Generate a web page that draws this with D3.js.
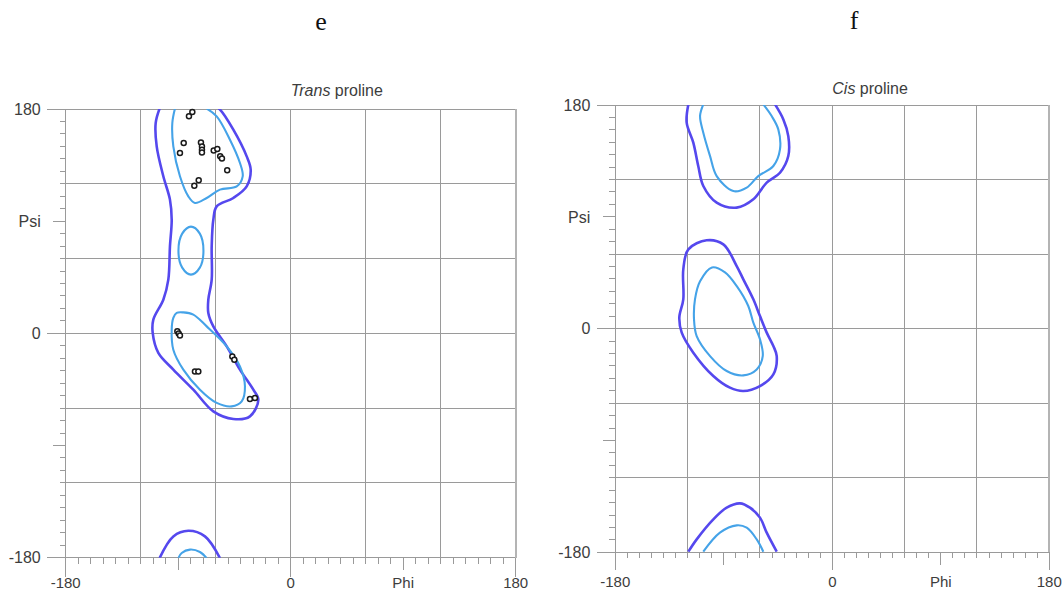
<!DOCTYPE html>
<html>
<head>
<meta charset="utf-8">
<script src="https://cdn.jsdelivr.net/npm/d3@7"></script>
<style>
  body { margin: 0; background: #fff; }
  svg { display: block; }
</style>
</head>
<body>
<div id="chart"></div>
<script>
// axis labels shared by both panels
var tickValues = [-180, 0, 180];
var tickLabels = ["-180", "0", "180"];
var nameValue = 90;

// Trans proline contours, [phi, psi]
var transOuterTop = [[-104.9,180.3],[-108,168.8],[-107.2,150],[-101.9,126],[-96.6,107.3],[-95.2,91.2],[-96.6,69.8],[-97.9,43.1],[-101.9,27],[-109.9,11],[-110.4,0.3],[-105.9,-15.7],[-93.9,-29.1],[-77.9,-45.2],[-61.9,-62.6],[-45.9,-68.7],[-32.6,-66.6],[-25.9,-53.2],[-29.9,-45.2],[-40.6,-29.1],[-51.2,-10.4],[-61.9,5.6],[-65.9,16.4],[-65.9,27],[-63.2,43.1],[-63.2,69.8],[-61.9,91.2],[-59.2,101.9],[-45.9,108.6],[-35.2,117.9],[-32,131.3],[-35.2,142],[-45.9,163.4],[-56.6,179.5],[-57.9,180.3]];
var transInnerTop = [[-92.6,180.3],[-94.7,168.8],[-93.9,150],[-88.6,126],[-81.9,109.9],[-76.6,104.6],[-67.2,108.6],[-56.6,115.3],[-43.2,117.9],[-38.4,126],[-40.6,136.7],[-48.6,155.4],[-59.2,174.1],[-67.2,180.3]];
var transInnerLoop = [[-79.8,85.6],[-72.7,80],[-69.8,66.3],[-72.7,52.7],[-79.8,47.1],[-86.8,52.7],[-89.8,66.3],[-86.8,80]];
var transInnerMid = [[-91.2,16.4],[-85.9,16.8],[-77.9,15],[-67.2,5.6],[-51.2,-10.4],[-40.6,-26.5],[-36.6,-42.5],[-39.2,-54.6],[-47.2,-58.6],[-59.2,-55.8],[-72.6,-45.2],[-85.9,-29.1],[-93.9,-13.1],[-95.2,3],[-93.9,12.4]];
var transOuterBottom = [[-104.9,-180.3],[-93.9,-162.9],[-81.9,-158.4],[-68.6,-162.9],[-56.6,-180.3]];
var transInnerBottom = [[-89.9,-180.3],[-87.2,-176.2],[-80.6,-173.5],[-72.6,-175.4],[-67.2,-180.3]];
var transResidues = [[-81.4,174.1],[-78.7,177.6],[-85.6,152.8],[-88.6,144.7],[-71.8,153.2],[-71,150],[-71,147.4],[-71,145],[-61.6,146.8],[-58.7,147.9],[-56.4,142],[-55,140.2],[-50.8,130.8],[-77.1,118.5],[-73.6,122.9],
  [-90.7,1.6],[-89.6,-0.2],[-88.6,-1.8],[-76.6,-30.7],[-73.9,-30.7],[-46.7,-18.5],[-45.1,-21.1],[-32.6,-52.6],[-28.6,-51.8]];

// Cis proline contours
var cisOuterTop = [[-119.4,180.5],[-120.8,165.8],[-115.3,149.7],[-111.2,130.9],[-107,114.8],[-95.9,101.4],[-79.3,97.4],[-65.5,104.1],[-54.4,117.5],[-43.4,125.5],[-36.5,138.9],[-36.5,155],[-40.6,168.4],[-47.5,180.5]];
var cisInnerTop = [[-107,180.5],[-109.7,171.1],[-107,157.7],[-101.4,138.9],[-95.9,122.8],[-82.1,110.7],[-71,113.5],[-61.4,122.8],[-48.9,130.9],[-43.4,144.3],[-44.8,160.4],[-50.3,171.1],[-57.2,180.5]];
var cisOuterMid = [[-119.4,63.8],[-104.2,71.1],[-90.4,67.8],[-79.3,50.4],[-73.8,39.7],[-65.5,23.6],[-60,10.1],[-54.4,-3.2],[-48.9,-14],[-46.1,-22.1],[-48.9,-36.8],[-60,-46.2],[-73.8,-50.2],[-84.9,-47.5],[-98.7,-38.1],[-115.3,-19.3],[-124.9,-3.2],[-126.9,8.9],[-123.6,23.6],[-123.6,47.7]];
var cisInnerMid = [[-99.8,49.3],[-89,45.3],[-79.1,34],[-69.7,18.2],[-65.5,4.8],[-60,-8.6],[-57.7,-22.1],[-62.7,-32.8],[-73.8,-37.6],[-87.6,-34.1],[-101.4,-22.1],[-112.5,-6],[-114.7,7.5],[-113.9,23.6],[-109.7,38.1]];
var cisOuterBottom = [[-119.4,-179.5],[-112.5,-169.6],[-98.7,-153.5],[-87.6,-144.1],[-76.6,-140.6],[-68.3,-144.1],[-60,-152.1],[-54.4,-164.2],[-46.1,-179.5]];
var cisInnerBottom = [[-107,-179.5],[-93.2,-164.2],[-79.3,-158.3],[-71,-160.2],[-62.7,-169.6],[-57.2,-179.5]];

var outerColour = "#5548ee";
var innerColour = "#45a3e8";
var gridColour = "#9a9a9a";
var textColour = "#3d3d3d";

var svg = d3.select("#chart")
    .append("svg")
    .attr("width", 1064)
    .attr("height", 592);

svg.append("text").attr("x", 321).attr("y", 30)
    .attr("text-anchor", "middle")
    .style("font-family", "'Liberation Serif', 'DejaVu Serif', serif")
    .style("font-size", "26px").attr("fill", "#111").text("e");
svg.append("text").attr("x", 854).attr("y", 29)
    .attr("text-anchor", "middle")
    .style("font-family", "'Liberation Serif', 'DejaVu Serif', serif")
    .style("font-size", "26px").attr("fill", "#111").text("f");

function drawPanel(cfg) {
    var x = d3.scaleLinear().domain([-180, 180]).range([cfg.left, cfg.right]);
    var y = d3.scaleLinear().domain([-180, 180]).range([cfg.bottom, cfg.top]);
    var g = svg.append("g").attr("class", cfg.id);
    var steps = d3.range(-180, 181, 10);

    // tick length by kind of degree value
    function tickLen(v) {
        if (v == 0 || Math.abs(v) == 180) return cfg.majorLen;
        if (Math.abs(v) == 90) return cfg.midLen;
        return cfg.minorLen;
    }

    // grid
    var grid = g.append("g").attr("stroke", gridColour).attr("stroke-width", 1).attr("shape-rendering", "crispEdges");
    grid.selectAll("line.v")
        .data(steps.filter(v => v % 60 == 0 && Math.abs(v) != 180))
        .enter().append("line")
        .attr("x1", d => x(d)).attr("x2", d => x(d))
        .attr("y1", y(180)).attr("y2", y(-180));
    grid.selectAll("line.h")
        .data(steps.filter(v => v % 60 == 0))
        .enter().append("line")
        .attr("x1", x(-180)).attr("x2", x(180))
        .attr("y1", d => y(d)).attr("y2", d => y(d));
    grid.append("line")
        .attr("x1", x(-180)).attr("x2", x(-180))
        .attr("y1", y(180)).attr("y2", y(-180));
    grid.append("line")
        .attr("x1", x(180)).attr("x2", x(180))
        .attr("y1", y(180)).attr("y2", y(-180))
        .attr("stroke", "#b4b4b4").attr("stroke-width", 2);

    // ticks
    grid.selectAll("line.ty")
        .data(steps)
        .enter().append("line")
        .attr("x1", d => x(-180) - tickLen(d)).attr("x2", x(-180))
        .attr("y1", d => y(d)).attr("y2", d => y(d));
    grid.selectAll("line.tx")
        .data(steps)
        .enter().append("line")
        .attr("x1", d => x(d)).attr("x2", d => x(d))
        .attr("y1", y(-180)).attr("y2", d => y(-180) + tickLen(d));

    // labels
    var font = "'Liberation Sans', Arial, sans-serif";
    g.selectAll("text.yl")
        .data(tickValues)
        .enter().append("text")
        .attr("x", x(-180) - cfg.yLabelGap)
        .attr("y", d => y(d))
        .attr("dy", "0.36em")
        .attr("text-anchor", "end")
        .style("font-family", font).style("font-size", "16px")
        .attr("fill", textColour)
        .text((d, i) => tickLabels[i]);
    g.append("text")
        .attr("x", x(-180) - cfg.yLabelGap).attr("y", y(nameValue)).attr("dy", "0.36em")
        .attr("text-anchor", "end")
        .style("font-family", font).style("font-size", "16px")
        .attr("fill", textColour).text("Psi");
    g.selectAll("text.xl")
        .data(tickValues)
        .enter().append("text")
        .attr("x", d => x(d))
        .attr("y", y(-180) + cfg.xLabelGap)
        .attr("text-anchor", "middle")
        .style("font-family", font).style("font-size", "15px")
        .attr("fill", textColour)
        .text((d, i) => tickLabels[i]);
    g.append("text")
        .attr("x", x(nameValue)).attr("y", y(-180) + cfg.xLabelGap)
        .attr("text-anchor", "middle")
        .style("font-family", font).style("font-size", "15px")
        .attr("fill", textColour).text("Phi");

    var title = g.append("text")
        .attr("x", x(0)).attr("y", cfg.titleY)
        .style("font-family", font).style("font-size", "16px")
        .attr("fill", textColour);
    title.append("tspan").style("font-style", "italic").text(cfg.titleItalic);
    title.append("tspan").text(" proline");

    // contours
    g.append("clipPath").attr("id", "clip-" + cfg.id)
        .append("rect")
        .attr("x", x(-180)).attr("y", y(180))
        .attr("width", x(180) - x(-180)).attr("height", y(-180) - y(180));
    var plot = g.append("g").attr("clip-path", "url(#clip-" + cfg.id + ")");
    var openLine = d3.line().x(d => x(d[0])).y(d => y(d[1])).curve(d3.curveCatmullRom.alpha(0.5));
    var closedLine = d3.line().x(d => x(d[0])).y(d => y(d[1])).curve(d3.curveCatmullRomClosed.alpha(0.5));

    cfg.contours.forEach(function (c) {
        plot.append("path")
            .datum(c.points)
            .attr("d", c.closed ? closedLine : openLine)
            .attr("fill", "none")
            .attr("stroke", c.outer ? outerColour : innerColour)
            .attr("stroke-width", c.outer ? 2.6 : 2.1)
            .attr("stroke-linejoin", "round");
    });

    g.append("g").selectAll("circle")
        .data(cfg.points)
        .enter().append("circle")
        .attr("cx", d => x(d[0]))
        .attr("cy", d => y(d[1]))
        .attr("r", 2.5)
        .attr("fill", "#fff")
        .attr("stroke", "#1a1a1a")
        .attr("stroke-width", 1.5);
}

drawPanel({
    id: "trans",
    left: 65.7, right: 515.7, top: 109, bottom: 557.7,
    minorLen: 6, midLen: 12.5, majorLen: 19,
    yLabelGap: 25, xLabelGap: 30, titleY: 95.5,
    titleItalic: "Trans",
    contours: [
        { points: transOuterTop, outer: true },
        { points: transOuterBottom, outer: true },
        { points: transInnerTop },
        { points: transInnerLoop, closed: true },
        { points: transInnerMid, closed: true },
        { points: transInnerBottom }
    ],
    points: transResidues
});

drawPanel({
    id: "cis",
    left: 615.3, right: 1049.3, top: 105, bottom: 552.3,
    minorLen: 6, midLen: 12.5, majorLen: 18,
    yLabelGap: 25, xLabelGap: 35, titleY: 94,
    titleItalic: "Cis",
    contours: [
        { points: cisOuterTop, outer: true },
        { points: cisInnerTop },
        { points: cisOuterMid, outer: true, closed: true },
        { points: cisInnerMid, closed: true },
        { points: cisOuterBottom, outer: true },
        { points: cisInnerBottom }
    ],
    points: []
});
</script>
</body>
</html>
